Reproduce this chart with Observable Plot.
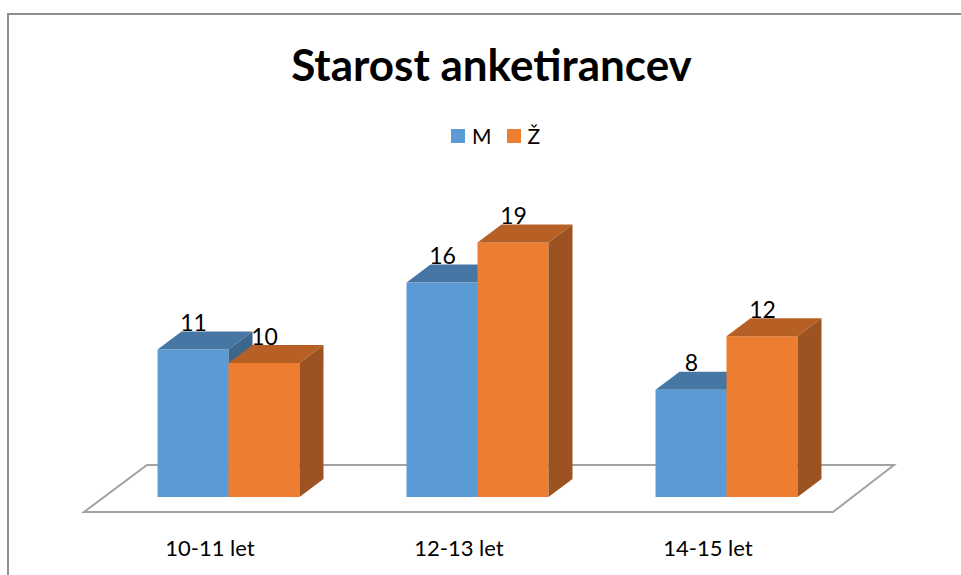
<!DOCTYPE html>
<html>
<head>
<meta charset="utf-8">
<script src="https://cdn.jsdelivr.net/npm/d3@7"></script>
<script src="https://cdn.jsdelivr.net/npm/@observablehq/plot@0.6"></script>
<style>
  html, body { margin: 0; padding: 0; background: #fff; width: 961px; height: 575px; overflow: hidden; }
  body { position: relative; font-family: Lato, "Open Sans", sans-serif; color: #000; }
  #frame { position: absolute; left: 7px; top: 13px; width: 1000px; height: 620px; box-sizing: border-box;
           border-left: 2px solid #8e8e8e; border-top: 2px solid #8e8e8e; }
  #title { position: absolute; left: 0; width: 983px; top: 42px; text-align: center;
           font-weight: 700; font-size: 44px; line-height: 44px; white-space: nowrap; }
  #legend { position: absolute; left: 451px; top: 125px; height: 22px; display: flex; align-items: center;
            font-size: 21px; line-height: 22px; }
  #legend .sw { display: inline-block; width: 14px; height: 14px; margin-right: 7px; }
  #legend .item { display: flex; align-items: center; margin-right: 15px; }
  #chart { position: absolute; left: 0; top: 160px; }
</style>
</head>
<body>
<div id="frame"></div>
<div id="title">Starost anketirancev</div>
<div id="legend"></div>
<div id="chart"></div>
<script>
// ---- data ----
const categories = ["10-11 let", "12-13 let", "14-15 let"];
const series = ["M", "Ž"];
const valuesM = [11, 16, 8];
const valuesZ = [10, 19, 12];
const seriesColors = ["#5b9bd5", "#ed7d31"];

const data = categories.flatMap((cat, i) => [
  {cat, sex: series[0], value: valuesM[i]},
  {cat, sex: series[1], value: valuesZ[i]}
]);

// ---- legend ----
const legend = document.getElementById("legend");
series.forEach((s, i) => {
  const item = document.createElement("span");
  item.className = "item";
  const sw = document.createElement("span");
  sw.className = "sw";
  sw.style.background = seriesColors[i];
  const lab = document.createElement("span");
  lab.textContent = s;
  item.appendChild(sw);
  item.appendChild(lab);
  legend.appendChild(item);
});

// ---- 3D look ----
const DEPTH = [24, -18];      // oblique offset of the bar depth (px)
const FLOOR_FRONT = [-20, 15];
const FLOOR_BACK = [43, -32];

function bw(scale) {
  return typeof scale.bandwidth === "function" ? scale.bandwidth() : scale.bandwidth;
}

function bars3d(index, scales, values) {
  const g = d3.create("svg:g");
  const w = bw(scales.x);
  const [dx, dy] = DEPTH;
  const order = Array.from(index).sort((a, b) => values.x[a] - values.x[b]);
  for (const i of order) {
    const x0 = values.x[i], x1 = x0 + w;
    const yt = Math.min(values.y1[i], values.y2[i]);
    const yb = Math.max(values.y1[i], values.y2[i]);
    const c = d3.color(values.fill[i]);
    g.append("rect").attr("x", x0).attr("y", yt).attr("width", w).attr("height", yb - yt).attr("fill", c + "");
    g.append("path")
      .attr("d", `M${x0},${yt}L${x1},${yt}L${x1 + dx},${yt + dy}L${x0 + dx},${yt + dy}Z`)
      .attr("fill", c.darker(0.73) + "");
    g.append("path")
      .attr("d", `M${x1},${yt}L${x1 + dx},${yt + dy}L${x1 + dx},${yb + dy}L${x1},${yb}Z`)
      .attr("fill", c.darker(1.15) + "");
  }
  return g.node();
}

function floor3d(index, scales, values) {
  const r = scales.x.range();
  const band = Math.abs(r[1] - r[0]);
  const left = Math.min(r[0], r[1]);
  const right = left + band * categories.length;
  const y0 = values.y[index[0]];
  const [fx, fy] = FLOOR_FRONT, [bx, by] = FLOOR_BACK;
  return d3.create("svg:path")
    .attr("d", `M${left + fx},${y0 + fy}L${right + fx + 2},${y0 + fy}L${right + bx},${y0 + by}L${left + bx},${y0 + by}Z`)
    .attr("fill", "none")
    .attr("stroke", "#a3a3a3")
    .attr("stroke-width", 2)
    .attr("stroke-linejoin", "miter")
    .node();
}

const chart = Plot.plot({
  width: 961,
  height: 415,
  marginLeft: 104,
  marginRight: 110,
  marginTop: 69,
  marginBottom: 78,
  fx: {domain: categories, padding: 0, round: false, axis: null},
  x: {domain: series, paddingInner: 0, paddingOuter: 0.754, round: false, axis: null},
  y: {domain: [0, 20], axis: null},
  color: {domain: series, range: seriesColors},
  style: {fontFamily: "Lato, 'Open Sans', sans-serif", fontSize: "22px", color: "#000", background: "transparent", overflow: "visible"},
  marks: [
    Plot.ruleY([{cat: categories[0], y: 0}], {fx: "cat", y: "y", render: floor3d}),
    Plot.barY(data, {fx: "cat", x: "sex", y: "value", fill: "sex", render: bars3d}),
    Plot.text(data, {fx: "cat", x: "sex", y: "value", text: d => String(d.value),
      lineAnchor: "bottom", dy: -19, fontSize: 23, fill: "#000"}),
    Plot.text(categories, {fx: d => d, text: d => d, frameAnchor: "bottom",
      lineAnchor: "middle", dx: -19, dy: 51, fontSize: 22, fill: "#000"})
  ]
});
document.getElementById("chart").appendChild(chart);
</script>
</body>
</html>
